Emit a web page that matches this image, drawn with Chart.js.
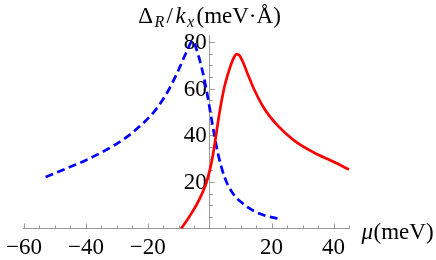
<!DOCTYPE html>
<html><head><meta charset="utf-8">
<script src="https://cdn.jsdelivr.net/npm/chart.js@4"></script>
<style>html,body{margin:0;padding:0;background:#fff}canvas{display:block}</style>
</head><body>
<canvas id="c" width="436" height="260"></canvas>
<script>
// Data
const redX  = [-9.2,-7.5,-5.9,-4.2,-2.7,-1.1,0,1.1,2.1,3.2,4.8,6,7,8,8.7,9.6,10.7,12.5,14.4,17.6,21.9,27.2,33.6,40,45];
const redY  = [0,3.2,6.5,10.3,14.3,19.6,24.8,32,40.5,50,61,66.8,70.8,73.8,74.8,74.3,71.5,65.5,59.5,51.5,44.2,37.8,32.6,28.6,25.3];
const blueX = [-53,-46.4,-40,-33.6,-28.3,-22.9,-17.6,-13.3,-10.1,-7.5,-5.5,-4.3,-2.7,-1.2,0,1.1,2.7,4.8,7.5,10.7,14.9,18,21.9];
const blueY = [22.1,25.7,29.3,33.6,37.8,43.5,50.7,59.3,67.9,75.7,80.5,77,69.5,60.5,51.5,43,32,22,15,10.7,7.1,5.5,4.3];
const xTickLabels = [-60,-40,-20,20,40];
const yTickLabels = [20,40,60,80];
const xMin = -60, xMax = 45, yMin = 0, yMax = 83;
const minorStep = 5;

const FONT = '"Liberation Serif","Times New Roman",serif';
const toPts = (xs, ys) => xs.map((x, i) => ({x, y: ys[i]}));
const fmt = v => v < 0 ? '\u2212' + Math.abs(v) : String(v);

const tickPlugin = {
  id: 'ticksAndText',
  beforeDatasetsDraw(chart) {
    const {ctx, scales: {x, y}} = chart;
    const x0 = x.getPixelForValue(0), y0 = y.getPixelForValue(0);
    ctx.save();
    ctx.strokeStyle = '#999';
    ctx.lineWidth = 1;
    ctx.beginPath();
    for (let v = xMin; v <= xMax + 1e-9; v += minorStep) {
      if (v === 0) continue;
      const px = Math.round(x.getPixelForValue(v)) + 0.5;
      const len = (v % 20 === 0) ? 5 : 3;
      ctx.moveTo(px, y0); ctx.lineTo(px, y0 - len);
    }
    for (let v = yMin + minorStep; v <= yMax + 1e-9; v += minorStep) {
      const py = Math.round(y.getPixelForValue(v)) + 0.5;
      const len = (v % 20 === 0) ? 5 : 3;
      ctx.moveTo(x0, py); ctx.lineTo(x0 + len, py);
    }
    ctx.stroke();
    // y tick labels, right-aligned just left of the y axis
    ctx.fillStyle = '#000';
    ctx.font = '23px ' + FONT;
    ctx.textAlign = 'right';
    ctx.textBaseline = 'middle';
    yTickLabels.forEach(v => ctx.fillText(fmt(v), x0 - 3, y.getPixelForValue(v) + 1));
    ctx.restore();
  },
  afterDraw(chart) {
    const {ctx} = chart;
    ctx.save();
    ctx.fillStyle = '#000';
    ctx.textBaseline = 'alphabetic';
    const up = '23px ' + FONT, it = 'italic 23px ' + FONT, sub = 'italic 16px ' + FONT;
    const bl = 23.3;
    ctx.font = up;  ctx.fillText('\u0394', 138.3, bl);
    ctx.font = sub; ctx.fillText('R', 154.5, bl + 4);
    ctx.font = up;  ctx.fillText('/', 166.5, bl);
    ctx.font = it;  ctx.fillText('k', 175.5, bl);
    ctx.font = sub; ctx.fillText('x', 187, bl + 4);
    ctx.font = up;  ctx.fillText('(meV\u00B7\u00C5)', 196.5, bl);
    // x-axis label
    ctx.font = it;  ctx.fillText('\u03BC', 361.5, 239);
    const w = ctx.measureText('\u03BC').width;
    ctx.font = up;  ctx.fillText('(meV)', 361.5 + w + 0.5, 239);
    ctx.restore();
  }
};

new Chart(document.getElementById('c'), {
  type: 'line',
  data: {
    datasets: [
      {data: toPts(redX, redY), borderColor: '#ff0000', borderWidth: 2.7, pointRadius: 0,
       fill: false, cubicInterpolationMode: 'monotone', clip: 6},
      {data: toPts(blueX, blueY), borderColor: '#0000ff', borderWidth: 2.7, borderDash: [8, 4.5],
       pointRadius: 0, fill: false, cubicInterpolationMode: 'monotone', clip: 6}
    ]
  },
  options: {
    responsive: false,
    animation: false,
    devicePixelRatio: 1,
    layout: {padding: {left: 20.8, right: 87, top: 35, bottom: 31.5}},
    plugins: {legend: {display: false}, tooltip: {enabled: false}},
    scales: {
      x: {
        type: 'linear', min: xMin, max: xMax, position: {y: 0},
        grid: {display: false, drawTicks: false},
        border: {display: true, color: '#999', width: 1},
        ticks: {stepSize: 20, includeBounds: false, autoSkip: false, maxRotation: 0, padding: 6,
                color: '#000', font: {family: FONT, size: 23},
                callback: v => xTickLabels.includes(v) ? fmt(v) : ''},
        afterFit: s => { s.height = 0; }
      },
      y: {
        type: 'linear', min: yMin, max: yMax, position: {x: 0},
        grid: {display: false, drawTicks: false},
        border: {display: true, color: '#999', width: 1},
        ticks: {display: false, stepSize: 20, includeBounds: false},
        afterFit: s => { s.width = 0; }
      }
    }
  },
  plugins: [tickPlugin]
});
</script>
</body></html>
